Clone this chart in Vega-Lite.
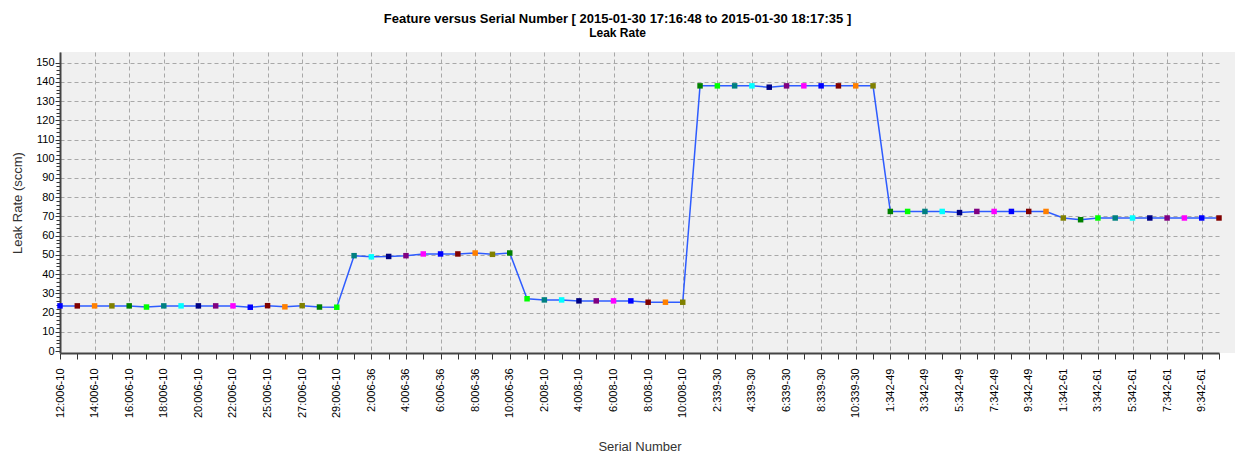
{
  "$schema": "https://vega.github.io/schema/vega-lite/v6.json",
  "autosize": "none",
  "padding": {"left": 60, "top": 52, "right": 0, "bottom": 103},
  "width": 1175,
  "height": 301,
  "background": "white",
  "config": {
    "font": "Liberation Sans",
    "view": {"fill": "#F0F0F0", "stroke": null}
  },
  "title": {
    "text": "Feature versus Serial Number [ 2015-01-30 17:16:48 to 2015-01-30 18:17:35 ]",
    "subtitle": "Leak Rate",
    "font": "Liberation Sans",
    "fontSize": 13,
    "fontWeight": "bold",
    "color": "black",
    "subtitleFont": "Liberation Sans",
    "subtitleFontSize": 12,
    "subtitleFontWeight": "bold",
    "subtitleColor": "black",
    "subtitlePadding": 2,
    "anchor": "middle",
    "dx": -30,
    "offset": 13
  },
  "data": {
    "values": [
      {"serial": "12:006-10", "leak": 23.5},
      {"serial": "13:006-10", "leak": 23.5},
      {"serial": "14:006-10", "leak": 23.5},
      {"serial": "15:006-10", "leak": 23.5},
      {"serial": "16:006-10", "leak": 23.5},
      {"serial": "17:006-10", "leak": 22.9},
      {"serial": "18:006-10", "leak": 23.5},
      {"serial": "19:006-10", "leak": 23.5},
      {"serial": "20:006-10", "leak": 23.5},
      {"serial": "21:006-10", "leak": 23.5},
      {"serial": "22:006-10", "leak": 23.5},
      {"serial": "24:006-10", "leak": 22.8},
      {"serial": "25:006-10", "leak": 23.6},
      {"serial": "26:006-10", "leak": 23.0},
      {"serial": "27:006-10", "leak": 23.6},
      {"serial": "28:006-10", "leak": 22.9},
      {"serial": "29:006-10", "leak": 22.8},
      {"serial": "1:006-36", "leak": 49.6},
      {"serial": "2:006-36", "leak": 49.0},
      {"serial": "3:006-36", "leak": 49.2},
      {"serial": "4:006-36", "leak": 49.6},
      {"serial": "5:006-36", "leak": 50.5},
      {"serial": "6:006-36", "leak": 50.5},
      {"serial": "7:006-36", "leak": 50.5},
      {"serial": "8:006-36", "leak": 51.0},
      {"serial": "9:006-36", "leak": 50.3},
      {"serial": "10:006-36", "leak": 51.0},
      {"serial": "1:008-10", "leak": 27.2},
      {"serial": "2:008-10", "leak": 26.6},
      {"serial": "3:008-10", "leak": 26.6},
      {"serial": "4:008-10", "leak": 26.1},
      {"serial": "5:008-10", "leak": 26.1},
      {"serial": "6:008-10", "leak": 26.1},
      {"serial": "7:008-10", "leak": 26.1},
      {"serial": "8:008-10", "leak": 25.4},
      {"serial": "9:008-10", "leak": 25.4},
      {"serial": "10:008-10", "leak": 25.4},
      {"serial": "1:339-30", "leak": 137.9},
      {"serial": "2:339-30", "leak": 137.9},
      {"serial": "3:339-30", "leak": 137.9},
      {"serial": "4:339-30", "leak": 137.9},
      {"serial": "5:339-30", "leak": 137.2},
      {"serial": "6:339-30", "leak": 137.9},
      {"serial": "7:339-30", "leak": 137.9},
      {"serial": "8:339-30", "leak": 137.9},
      {"serial": "9:339-30", "leak": 137.9},
      {"serial": "10:339-30", "leak": 137.9},
      {"serial": "11:339-30", "leak": 137.9},
      {"serial": "1:342-49", "leak": 72.6},
      {"serial": "2:342-49", "leak": 72.6},
      {"serial": "3:342-49", "leak": 72.6},
      {"serial": "4:342-49", "leak": 72.6},
      {"serial": "5:342-49", "leak": 72.0},
      {"serial": "6:342-49", "leak": 72.6},
      {"serial": "7:342-49", "leak": 72.6},
      {"serial": "8:342-49", "leak": 72.6},
      {"serial": "9:342-49", "leak": 72.6},
      {"serial": "10:342-49", "leak": 72.6},
      {"serial": "1:342-61", "leak": 69.2},
      {"serial": "2:342-61", "leak": 68.3},
      {"serial": "3:342-61", "leak": 69.2},
      {"serial": "4:342-61", "leak": 69.2},
      {"serial": "5:342-61", "leak": 69.2},
      {"serial": "6:342-61", "leak": 69.2},
      {"serial": "7:342-61", "leak": 69.2},
      {"serial": "8:342-61", "leak": 69.2},
      {"serial": "9:342-61", "leak": 69.2},
      {"serial": "10:342-61", "leak": 69.2}
    ]
  },
  "encoding": {
    "x": {
      "field": "serial",
      "type": "nominal",
      "sort": null,
      "scale": {"type": "point", "range": [0, 1159], "padding": 0},
      "axis": {
        "title": "Serial Number",
        "titleFont": "Liberation Sans",
        "titleFontSize": 13,
        "titleFontWeight": "normal",
        "titleColor": "#333333",
        "titlePadding": 23,
        "labelAngle": -90,
        "labelFont": "Liberation Sans",
        "labelFontSize": 11,
        "labelColor": "black",
        "labelPadding": 9,
        "labelOverlap": false,
        "labelExpr": "indexof(['12:006-10','14:006-10','16:006-10','18:006-10','20:006-10','22:006-10','25:006-10','27:006-10','29:006-10','2:006-36','4:006-36','6:006-36','8:006-36','10:006-36','2:008-10','4:008-10','6:008-10','8:008-10','10:008-10','2:339-30','4:339-30','6:339-30','8:339-30','10:339-30','1:342-49','3:342-49','5:342-49','7:342-49','9:342-49','1:342-61','3:342-61','5:342-61','7:342-61','9:342-61'], datum.value) >= 0 ? datum.value : ''",
        "tickSize": 6,
        "tickColor": "#333333",
        "domainColor": "#444444",
        "domainWidth": 2,
        "grid": true,
        "gridDash": [4, 3],
        "gridColor": "#A8A8A8",
        "gridOpacity": {
          "condition": {
            "test": "indexof(['12:006-10','14:006-10','16:006-10','18:006-10','20:006-10','22:006-10','25:006-10','27:006-10','29:006-10','2:006-36','4:006-36','6:006-36','8:006-36','10:006-36','2:008-10','4:008-10','6:008-10','8:008-10','10:008-10','2:339-30','4:339-30','6:339-30','8:339-30','10:339-30','1:342-49','3:342-49','5:342-49','7:342-49','9:342-49','1:342-61','3:342-61','5:342-61','7:342-61','9:342-61'], datum.value) >= 0",
            "value": 1
          },
          "value": 0
        }
      }
    },
    "y": {
      "field": "leak",
      "type": "quantitative",
      "scale": {"domain": [-1, 155.5], "nice": false, "zero": false},
      "axis": {
        "title": "Leak Rate (sccm)",
        "titleFont": "Liberation Sans",
        "titleFontSize": 13,
        "titleFontWeight": "normal",
        "titleColor": "#333333",
        "titlePadding": 11,
        "values": [0,2,4,6,8,10,12,14,16,18,20,22,24,26,28,30,32,34,36,38,40,42,44,46,48,50,52,54,56,58,60,62,64,66,68,70,72,74,76,78,80,82,84,86,88,90,92,94,96,98,100,102,104,106,108,110,112,114,116,118,120,122,124,126,128,130,132,134,136,138,140,142,144,146,148,150],
        "labelExpr": "datum.value % 10 === 0 ? datum.value : ''",
        "labelFont": "Liberation Sans",
        "labelFontSize": 11,
        "labelColor": "black",
        "labelPadding": 1,
        "labelOverlap": false,
        "labelFlush": false,
        "tickColor": "#333333",
        "tickSize": {"condition": {"test": "datum.value % 10 === 0", "value": 5}, "value": 4},
        "domainColor": "#444444",
        "domainWidth": 2,
        "grid": true,
        "gridDash": [4, 3],
        "gridColor": "#A8A8A8",
        "gridOpacity": {"condition": {"test": "datum.value % 10 === 0 && datum.value > 0", "value": 1}, "value": 0}
      }
    }
  },
  "layer": [
    {
      "mark": {"type": "line", "color": "#2E5CFF", "strokeWidth": 1.5}
    },
    {
      "mark": {"type": "point", "shape": "square", "filled": true, "size": 30, "opacity": 1},
      "encoding": {
        "color": {
          "field": "serial",
          "type": "nominal",
          "sort": null,
          "legend": null,
          "scale": {"range": ["#0000FF", "#800000", "#FF8000", "#808000", "#008000", "#00FF00", "#008080", "#00FFFF", "#000080", "#800080", "#FF00FF"]}
        }
      }
    }
  ]
}
